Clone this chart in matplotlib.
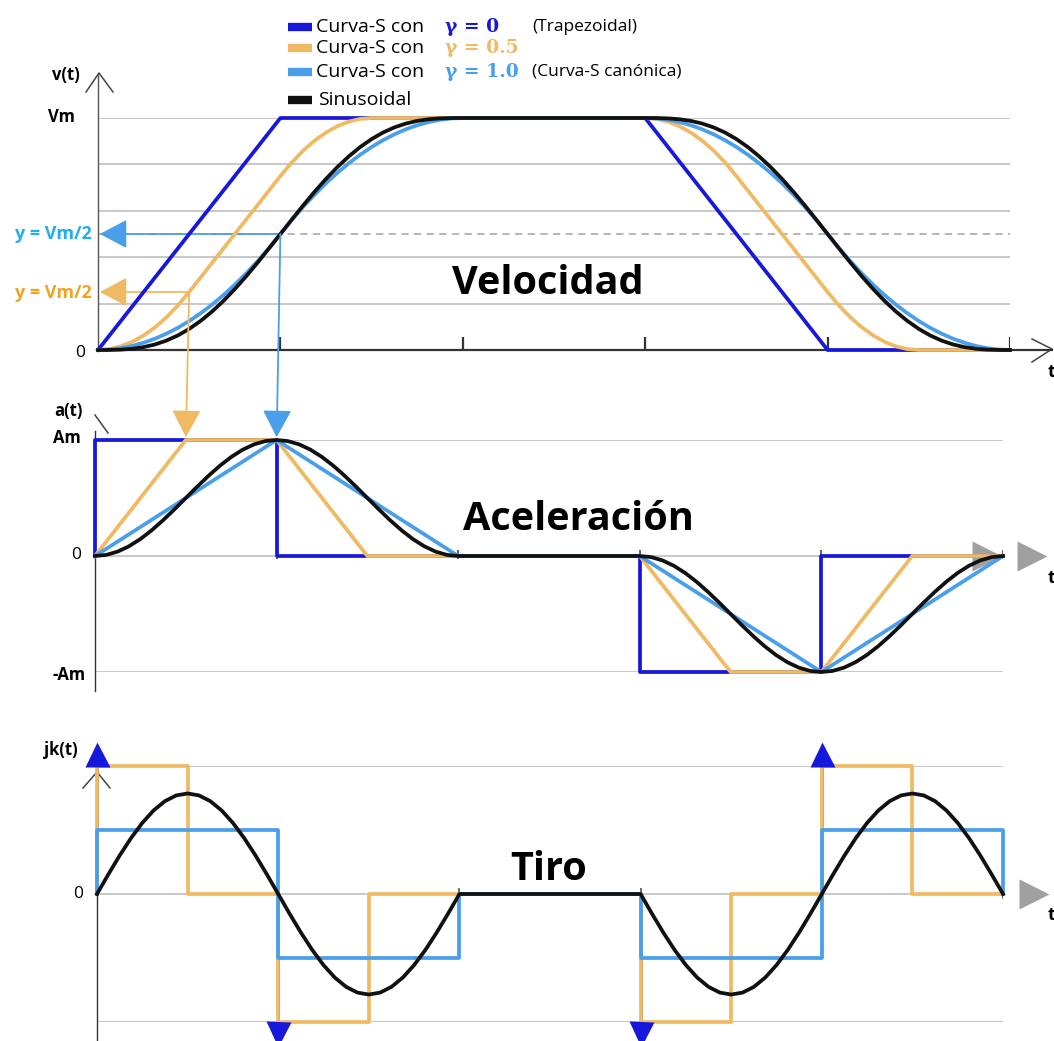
import matplotlib
matplotlib.use("Agg")
import matplotlib.pyplot as plt
from matplotlib import transforms
from matplotlib.patches import ConnectionPatch

# ---------------- data (time in tick units, values normalised) ----------------
# acceleration phase samples for the smooth curves (t = 0 .. 2, step 1/16)
t_acc = [k / 16 for k in range(33)]
# velocity (fraction of Vm)
v_sin = [0, 0.0002, 0.0016, 0.0053, 0.0125, 0.0239, 0.0405, 0.0627, 0.0909,
         0.1252, 0.1655, 0.2114, 0.2625, 0.3178, 0.3766, 0.4377, 0.5,
         0.5623, 0.6234, 0.6822, 0.7375, 0.7886, 0.8345, 0.8749, 0.9091,
         0.9374, 0.9595, 0.9761, 0.9875, 0.9947, 0.9984, 0.9998, 1.0]
v_canon = [0, 0.0020, 0.0078, 0.0176, 0.0313, 0.0488, 0.0703, 0.0957, 0.125,
           0.1582, 0.1953, 0.2363, 0.2813, 0.3301, 0.3828, 0.4395, 0.5,
           0.5605, 0.6172, 0.6699, 0.7188, 0.7637, 0.8047, 0.8418, 0.875,
           0.9043, 0.9297, 0.9512, 0.9688, 0.9824, 0.9922, 0.9980, 1.0]
t_half = [0, 0.0625, 0.125, 0.1875, 0.25, 0.3125, 0.375, 0.4375, 0.5,
          1.0, 1.0625, 1.125, 1.1875, 1.25, 1.3125, 1.375, 1.4375, 1.5]
v_half = [0, 0.0039, 0.0156, 0.0352, 0.0625, 0.0977, 0.1406, 0.1914, 0.25,
          0.75, 0.8086, 0.8594, 0.9023, 0.9375, 0.9648, 0.9844, 0.9961, 1.0]
t_trap = [0, 1, 3, 4, 5]
v_trap = [0, 1, 1, 0, 0]

# acceleration (fraction of Am)
a_sin = [0, 0.0096, 0.0381, 0.0843, 0.1464, 0.2222, 0.3087, 0.4025, 0.5,
         0.5975, 0.6913, 0.7778, 0.8536, 0.9157, 0.9619, 0.9904, 1.0,
         0.9904, 0.9619, 0.9157, 0.8536, 0.7778, 0.6913, 0.5975, 0.5,
         0.4025, 0.3087, 0.2222, 0.1464, 0.0843, 0.0381, 0.0096, 0]
t_a_canon = [0, 1, 2, 3, 4, 5]
a_canon = [0, 1, 0, 0, -1, 0]
t_a_half = [0, 0.5, 1, 1.5, 3, 3.5, 4, 4.5, 5]
a_half = [0, 1, 1, 0, 0, -1, -1, 0, 0]
t_a_trap = [0, 0, 1, 1, 3, 3, 4, 4, 5]
a_trap = [0, 1, 1, 0, 0, -1, -1, 0, 0]

# jerk
j_sin = [0, 0.3064, 0.6011, 0.8727, 1.1107, 1.3061, 1.4512, 1.5406, 1.5708,
         1.5406, 1.4512, 1.3061, 1.1107, 0.8727, 0.6011, 0.3064, 0,
         -0.3064, -0.6011, -0.8727, -1.1107, -1.3061, -1.4512, -1.5406, -1.5708,
         -1.5406, -1.4512, -1.3061, -1.1107, -0.8727, -0.6011, -0.3064, 0]
t_j_canon = [0, 0, 1, 1, 2, 2, 3, 3, 4, 4, 5, 5]
j_canon = [0, 1, 1, -1, -1, 0, 0, -1, -1, 1, 1, 0]
t_j_half = [0, 0, 0.5, 0.5, 1, 1, 1.5, 1.5, 3, 3, 3.5, 3.5, 4, 4, 4.5, 4.5, 5]
j_half = [0, 2, 2, 0, 0, -2, -2, 0, 0, -2, -2, 0, 0, 2, 2, 0, 0]
t_impulse = [0, 1, 3, 4]
impulse_sign = [1, -1, -1, 1]

ticks_t = [1, 2, 3, 4, 5]
v_grid = [0.2, 0.4, 0.6, 0.8, 1.0]

# build full series (deceleration phase mirrors the acceleration phase)
t_dec = [3 + s for s in t_acc]
T_S = t_acc + t_dec
V_SIN = v_sin + v_sin[::-1]
V_CAN = v_canon + v_canon[::-1]
T_H = t_half + [3 + s for s in t_half] + [5]
V_H = v_half + [1 - v for v in v_half] + [0]
A_SIN = a_sin + [-a for a in a_sin]
J_SIN = j_sin + [-j for j in j_sin]

# ---------------- style ----------------
BLUE = "#1818DC"
ORANGE = "#F0BA64"
LBLUE = "#4A9FEA"
BLACK = "#111111"
GRID = "#C8C8C8"
SANS = ["Open Sans", "DejaVu Sans"]
LW = 2.7

W, H = 1054, 1041
fig = plt.figure(figsize=(W / 100, H / 100), dpi=100)

ov = fig.add_axes([0, 0, 1, 1])
ov.set_xlim(0, W)
ov.set_ylim(H, 0)
ov.axis("off")


def px_axes(x0, x1, y0, y1):
    """axes whose data box spans pixel x0..x1, y0(top)..y1(bottom)"""
    ax = fig.add_axes([x0 / W, 1 - y1 / H, (x1 - x0) / W, (y1 - y0) / H])
    ax.axis("off")
    ax.patch.set_alpha(0)
    return ax


# ---------------- velocity panel ----------------
axv = px_axes(98, 1010, 118, 350)
axv.set_xlim(0, 5)
axv.set_ylim(0, 1)
axv.hlines(v_grid, 0, 5, color=GRID, lw=1.4, zorder=0.5)
axv.hlines([0.5], 0, 5, color="#B0B0B0", lw=1.3, linestyles=(0, (4, 3)), zorder=0.6)
axv.plot([0, 5.23], [0, 0], color="#333333", lw=1.6, clip_on=False, zorder=0.8)
axv.plot([0, 0], [0, 1.19], color="#555555", lw=1.0, clip_on=False, zorder=0.8)
axv.vlines(ticks_t, 0, 0.055, color="#333333", lw=1.6, zorder=0.8)

axv.plot(t_trap, v_trap, color=BLUE, lw=LW, clip_on=False, zorder=2)
axv.plot(T_H, V_H, color=ORANGE, lw=LW, clip_on=False, zorder=2.1)
axv.plot(T_S, V_CAN, color=LBLUE, lw=LW, clip_on=False, zorder=2.2)
axv.plot(T_S, V_SIN, color=BLACK, lw=LW, clip_on=False, zorder=2.3)

# ---------------- acceleration panel ----------------
axa = px_axes(95, 1003, 440, 672)
axa.set_xlim(0, 5)
axa.set_ylim(-1, 1)
axa.hlines([1, 0, -1], 0, 5, color=GRID, lw=1.4, zorder=0.5)
axa.plot([0, 0], [-1.16, 1.08], color="#333333", lw=1.0, clip_on=False, zorder=0.8)
axa.vlines(ticks_t, -0.03, 0.05, color="#555555", lw=1.3, zorder=0.8)
for tx in (4.91, 5.16):
    axa.plot([tx], [0], marker=">", ms=21, color="#A0A0A0", mec="none",
             clip_on=False, zorder=0.9)

axa.plot(t_a_trap, a_trap, color=BLUE, lw=LW, clip_on=False, zorder=2)
axa.plot(t_a_half, a_half, color=ORANGE, lw=LW, clip_on=False, zorder=2.1)
axa.plot(t_a_canon, a_canon, color=LBLUE, lw=LW, clip_on=False, zorder=2.2)
axa.plot(T_S, A_SIN, color=BLACK, lw=LW, clip_on=False, zorder=2.3)

# ---------------- jerk panel ----------------
axj = px_axes(97, 1003, 766, 1022)
axj.set_xlim(0, 5)
axj.set_ylim(-2, 2)
axj.hlines([2, 0, -2], 0, 5, color=GRID, lw=1.4, zorder=0.5)
axj.plot([0, 0], [-2.3, 2.3], color="#333333", lw=1.0, clip_on=False, zorder=0.8)
axj.vlines([2, 3, 4, 5], -0.08, 0.1, color="#555555", lw=1.2, zorder=0.8)
axj.plot([5.17], [0], marker=">", ms=21, color="#A0A0A0", mec="none",
         clip_on=False, zorder=0.9)

for t, s in zip(t_impulse, impulse_sign):
    axj.plot([t, t], [0, 2 * s], color=BLUE, lw=2.0, clip_on=False, zorder=1.9)
    off = transforms.offset_copy(axj.transData, fig=fig, x=0, y=8.5 * s, units="points")
    axj.plot([t], [2 * s], marker="^" if s > 0 else "v", ms=18, color=BLUE,
             mec="none", transform=off, clip_on=False, zorder=2.5)
axj.plot(t_j_half, j_half, color=ORANGE, lw=LW, clip_on=False, zorder=2.1)
axj.plot(t_j_canon, j_canon, color=LBLUE, lw=LW, clip_on=False, zorder=2.2)
axj.plot(T_S, J_SIN, color=BLACK, lw=LW, clip_on=False, zorder=2.3)

# ---------------- connector arrows (v = Vm/2 markers) ----------------
for (tc, vc, col) in ((1.0, 0.5, LBLUE), (0.5, 0.25, ORANGE)):
    axv.annotate("", xy=(0.01, vc), xytext=(tc, vc),
                 arrowprops=dict(arrowstyle="-|>,head_length=17,head_width=9",
                                 mutation_scale=1, color=col, lw=1.3,
                                 shrinkA=0, shrinkB=0),
                 zorder=1.5, annotation_clip=False)
    con = ConnectionPatch(xyA=(tc, vc), coordsA=axv.transData,
                          xyB=(tc, 1), coordsB=axa.transData,
                          arrowstyle="-|>,head_length=17,head_width=9",
                          mutation_scale=1, color=col, lw=1.3,
                          shrinkA=0, shrinkB=2)
    con.set_zorder(1.5)
    axa.add_artist(con)

# ---------------- chevrons ----------------
chev = dict(color="#444444", lw=1.1)
ov.plot([86, 99, 113], [92, 73, 92], **chev)              # v(t) axis
ov.plot([1032, 1052, 1032], [339, 349, 362], **chev)       # t axis (velocity)
ov.plot([95, 108], [415, 433], **chev)                     # a(t) axis
ov.plot([83, 97, 110], [788, 772, 788], **chev)            # jk(t) axis

# ---------------- texts ----------------
def T(x, y, s, size=12, weight="bold", color="black", ha="center", family=SANS):
    ov.text(x, y, s, fontsize=size, fontweight=weight, color=color, ha=ha,
            va="center", family=family)

T(66, 75, "v(t)")
T(61, 117, "Vm")
T(80, 353, "0", weight="normal", size=12.5)
T(53, 234, "y = Vm/2", color="#22AEEE", size=13)
T(53, 293, "y = Vm/2", color="#F0A424", size=13)
T(68, 411, "a(t)")
T(67, 438, "Am")
T(76, 555, "0", weight="normal", size=12.5)
T(69, 675, "-Am")
T(61, 750, "jk(t)")
T(78, 894, "0", weight="normal", size=12.5)
for y in (372, 578, 915):
    T(1048, y, "t", ha="left", size=13)

T(548, 283, "Velocidad", size=28.5)
T(578, 520, "Aceleración", size=28.5)
T(549, 869, "Tiro", size=28.5)

# ---------------- legend ----------------
rows = [(27, BLUE, "γ = 0", "(Trapezoidal)"),
        (48, ORANGE, "γ = 0.5", ""),
        (72, LBLUE, "γ = 1.0", "(Curva-S canónica)"),
        (100, BLACK, None, None)]
for y, col, g, note in rows:
    ov.plot([288, 312], [y, y], color=col, lw=6, solid_capstyle="butt")
    if g is None:
        ov.text(318, y, "Sinusoidal", fontsize=14, family=SANS, va="center")
        continue
    ov.text(316, y, "Curva-S con", fontsize=14, family=SANS, va="center")
    ov.text(445, y, g, fontsize=13.5, family=["DejaVu Serif"], fontweight="bold",
            color=col, va="center")
    if note:
        ov.text(532, y, note, fontsize=12.5, family=SANS, va="center")

fig.savefig("out.png", dpi=100)
